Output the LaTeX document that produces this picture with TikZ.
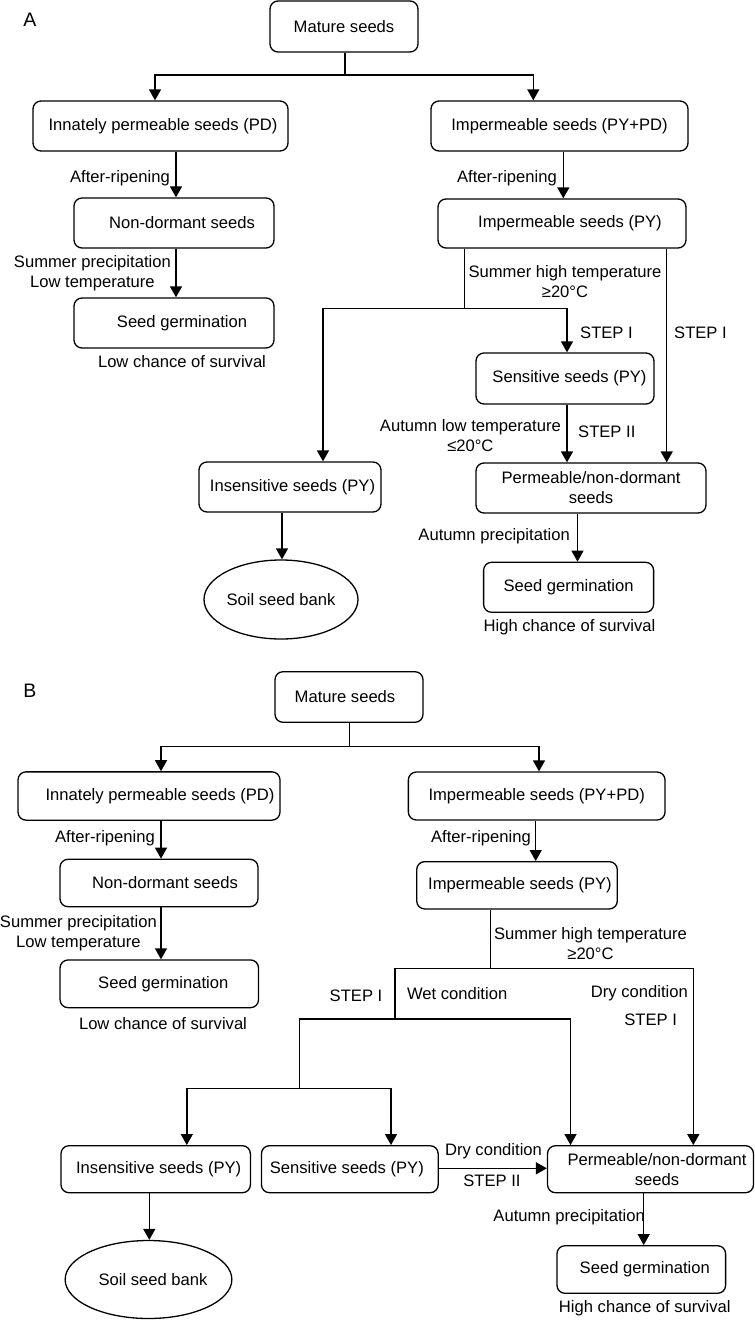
\documentclass[tikz,border=0pt]{standalone}
\usepackage{fontspec}
\setmainfont{Liberation Sans}
\usetikzlibrary{arrows.meta,shapes.geometric}
\begin{document}
\begin{tikzpicture}[x=1pt,y=-1pt,
  every node/.style={font=\fontsize{16.6pt}{20pt}\selectfont},
  box/.style={draw, line width=1.3pt, rounded corners=8pt, inner sep=0pt, align=center},
  oval/.style={draw, ellipse, line width=1.3pt, inner sep=0pt},
  lbl/.style={inner sep=0pt, align=center},
  panel/.style={inner sep=0pt, font=\fontsize{19.5pt}{22pt}\selectfont},
  conn/.style={line width=1.4pt},
  arr/.style={conn, -{Triangle[width=12pt,length=11pt]}}
]
\fill[white] (0,0) rectangle (755,1320);
\useasboundingbox (0,0) rectangle (755,1320);

% ---------------- Part A ----------------
\node[panel] (labA) at (30,20) {A};
\node[box, minimum width=148pt, minimum height=51pt] (A0) at (344,26.5) {Mature seeds};
\node[box, minimum width=255pt, minimum height=50pt] (A1) at (160.5,126) {\hspace{5pt}Innately permeable seeds (PD)};
\node[box, minimum width=257pt, minimum height=50pt] (A2) at (559.5,126) {Impermeable seeds (PY+PD)};
\node[box, minimum width=200pt, minimum height=50pt] (A3) at (174,223) {\hspace{16pt}Non-dormant seeds};
\node[box, minimum width=248pt, minimum height=49pt] (A4) at (562,223.5) {\hspace{16pt}Impermeable seeds (PY)};
\node[box, minimum width=200pt, minimum height=50pt] (A5) at (174,323) {\hspace{16pt}Seed germination};
\node[box, minimum width=178pt, minimum height=51pt] (A6) at (565,378.5) {\hspace{9pt}Sensitive seeds (PY)};
\node[box, minimum width=182pt, minimum height=50pt] (A7) at (290,487) {\hspace{5pt}Insensitive seeds (PY)};
\node[box, minimum width=230pt, minimum height=50pt] (A8) at (591,488) {Permeable/non-dormant\\seeds};
\node[oval, minimum width=148pt, minimum height=79pt] (A9) at (281,599.5) {Soil seed bank};
\node[box, minimum width=170pt, minimum height=50pt] (A10) at (568.6,587.3) {Seed germination};

\node[lbl, anchor=east] (tA1) at (170,178) {After-ripening};
\node[lbl, anchor=east] (tA2) at (171,273) {Summer precipitation\\Low temperature};
\node[lbl] (tA3) at (182,362) {Low chance of survival};
\node[lbl, anchor=east] (tA4) at (557,178) {After-ripening};
\node[lbl] (tA5) at (565,281.7) {Summer high temperature\\≥20°C};
\node[lbl, anchor=west] (tA6) at (580,333) {STEP I};
\node[lbl, anchor=west] (tA7) at (674,333) {STEP I};
\node[lbl, anchor=east] (tA8) at (561,436) {Autumn low temperature\\≤20°C};
\node[lbl, anchor=west] (tA9) at (578,432) {STEP II};
\node[lbl, anchor=east] (tA10) at (570,536) {Autumn precipitation};
\node[lbl] (tA11) at (569.5,626.7) {High chance of survival};

\coordinate (jA) at (345,75);
\coordinate (jAL) at (155,75);
\coordinate (jAR) at (533.3,75);
\draw[conn] (jA |- A0.south) -- (jA);
\draw[arr] (jA) -- (jAL) -- (jAL |- A1.north);
\draw[arr] (jA) -- (jAR) -- (jAR |- A2.north);
\coordinate (xA1) at (176,0);
\draw[arr] (xA1 |- A1.south) -- (xA1 |- A3.north);
\draw[arr] (xA1 |- A3.south) -- (xA1 |- A5.north);
\coordinate (xA2) at (563.3,0);
\draw[arr] (xA2 |- A2.south) -- (xA2 |- A4.north);
\coordinate (jA4) at (464.3,308.5);
\coordinate (jA4L) at (323,308.5);
\coordinate (jA4R) at (567,308.5);
\draw[conn] (jA4 |- A4.south) -- (jA4);
\draw[arr] (jA4) -- (jA4L) -- (jA4L |- A7.north);
\draw[arr] (jA4) -- (jA4R) -- (jA4R |- A6.north);
\coordinate (xA4R) at (666.7,0);
\draw[arr] (xA4R |- A4.south) -- (xA4R |- A8.north);
\draw[arr] (jA4R |- A6.south) -- (jA4R |- A8.north);
\coordinate (xA7) at (282,0);
\draw[arr] (xA7 |- A7.south) -- (xA7 |- A9.north);
\coordinate (xA8) at (577.5,0);
\draw[arr] (xA8 |- A8.south) -- (xA8 |- A10.north);

% ---------------- Part B ----------------
\node[panel] (labB) at (30,691) {B};
\node[box, minimum width=148pt, minimum height=50.6pt] (B0) at (349,697) {Mature seeds\hspace{8pt}};
\node[box, minimum width=262pt, minimum height=48.3pt] (B1) at (149,796) {\hspace{22pt}Innately permeable seeds (PD)};
\node[box, minimum width=256.7pt, minimum height=48pt] (B2) at (536.7,796) {Impermeable seeds (PY+PD)};
\node[box, minimum width=198pt, minimum height=47.4pt] (B3) at (159,883) {\hspace{12pt}Non-dormant seeds};
\node[box, minimum width=200.6pt, minimum height=47.3pt] (B4) at (517,885.3) {\hspace{6pt}Impermeable seeds (PY)};
\node[box, minimum width=198.5pt, minimum height=47.7pt] (B5) at (159.3,983.8) {\hspace{8pt}Seed germination};
\node[box, minimum width=189.4pt, minimum height=47pt] (B6) at (155.7,1169.2) {\hspace{6pt}Insensitive seeds (PY)};
\node[box, minimum width=176.7pt, minimum height=47pt] (B7) at (349.8,1169.2) {Sensitive seeds (PY)\hspace{6pt}};
\node[box, minimum width=206pt, minimum height=47pt] (B8) at (650.5,1169.2) {\hspace{13pt}Permeable/non-dormant\\\hspace{13pt}seeds};
\node[oval, minimum width=148pt, minimum height=78pt] (B9) at (148.5,1279.5) {\hspace{9pt}Soil seed bank};
\node[box, minimum width=168.6pt, minimum height=47.6pt] (B10) at (641.3,1269.5) {\hspace{7pt}Seed germination};

\node[lbl, anchor=east] (tB1) at (155,838.3) {After-ripening};
\node[lbl, anchor=east] (tB2) at (157,933.3) {Summer precipitation\\Low temperature};
\node[lbl] (tB3) at (163,1023.3) {Low chance of survival};
\node[lbl, anchor=east] (tB4) at (531,838.3) {After-ripening};
\node[lbl] (tB5) at (590.5,943.3) {Summer high temperature\\≥20°C};
\node[lbl] (tB6) at (356,996) {STEP I};
\node[lbl, anchor=west] (tB7) at (406.8,994) {Wet condition};
\node[lbl, anchor=east] (tB8) at (688,993.3) {Dry condition};
\node[lbl] (tB9) at (650.7,1019.3) {STEP I};
\node[lbl] (tB10) at (493.5,1150.7) {Dry condition};
\node[lbl] (tB11) at (492,1181) {STEP II};
\node[lbl, anchor=east] (tB12) at (645,1216.7) {Autumn precipitation};
\node[lbl] (tB13) at (644.8,1307.7) {High chance of survival};

\coordinate (jB) at (349.3,746.7);
\coordinate (jBL) at (161,746.7);
\coordinate (jBR) at (539,746.7);
\draw[conn] (jB |- B0.south) -- (jB);
\draw[arr] (jB) -- (jBL) -- (jBL |- B1.north);
\draw[arr] (jB) -- (jBR) -- (jBR |- B2.north);
\draw[arr] (jBL |- B1.south) -- (jBL |- B3.north);
\draw[arr] (jBL |- B3.south) -- (jBL |- B5.north);
\coordinate (xB2) at (535.7,0);
\draw[arr] (xB2 |- B2.south) -- (xB2 |- B4.north);
\coordinate (jB4) at (490.7,968.3);
\coordinate (jB4L) at (394.8,968.3);
\coordinate (jB4R) at (693.3,968.3);
\draw[conn] (jB4 |- B4.south) -- (jB4);
\draw[arr] (jB4) -- (jB4R) -- (jB4R |- B8.north);
\coordinate (jW) at (394.8,1019);
\coordinate (jWL) at (299.5,1019);
\coordinate (jWR) at (570.5,1019);
\draw[conn] (jB4) -- (jB4L) -- (jW);
\draw[arr] (jW) -- (jWR) -- (jWR |- B8.north);
\coordinate (jS) at (299.5,1088.3);
\coordinate (jSL) at (186.8,1088.3);
\coordinate (jSR) at (391,1088.3);
\draw[conn] (jW) -- (jWL) -- (jS);
\draw[arr] (jS) -- (jSL) -- (jSL |- B6.north);
\draw[arr] (jS) -- (jSR) -- (jSR |- B7.north);
\coordinate (yB7) at (0,1168.3);
\draw[arr] (B7.east |- yB7) -- (B8.west |- yB7);
\coordinate (xB6) at (149.3,0);
\draw[arr] (xB6 |- B6.south) -- (xB6 |- B9.north);
\coordinate (xB8) at (643.7,0);
\draw[arr] (xB8 |- B8.south) -- (xB8 |- B10.north);
\end{tikzpicture}
\end{document}
